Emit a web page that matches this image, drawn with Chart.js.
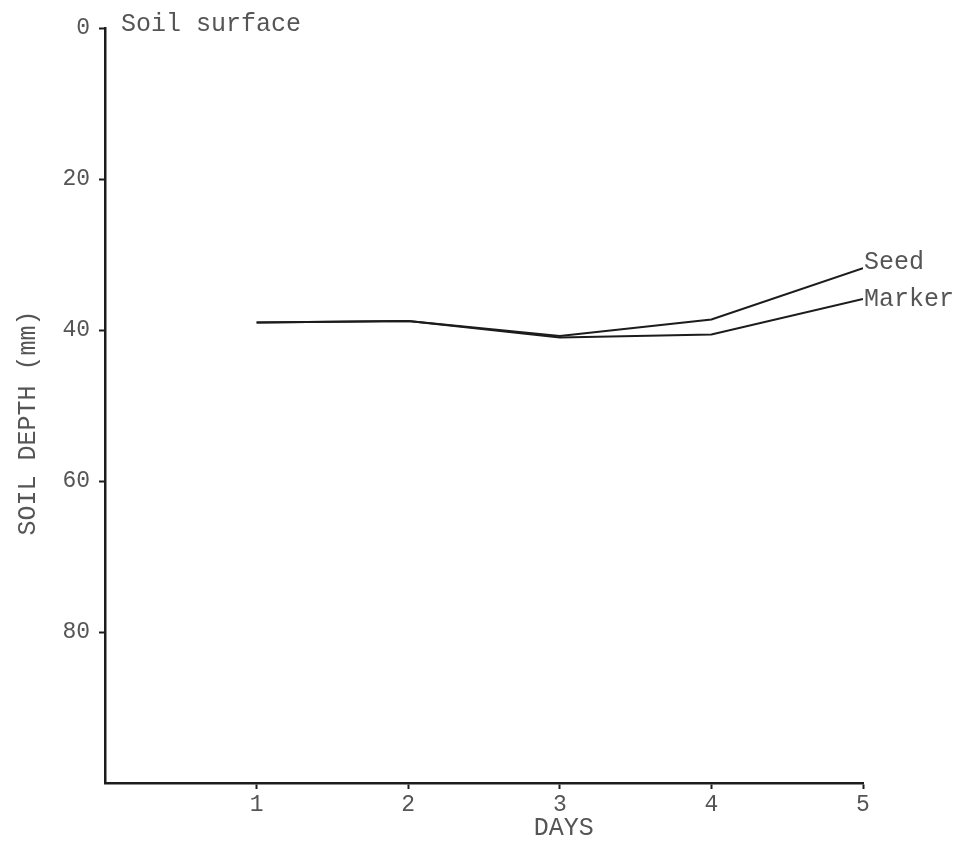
<!DOCTYPE html>
<html>
<head>
<meta charset="utf-8">
<script src="https://cdn.jsdelivr.net/npm/chart.js@4.4.1/dist/chart.umd.min.js"></script>
<style>
  html, body { margin: 0; padding: 0; background: #fff; }
  #wrap { width: 967px; height: 845px; }
</style>
</head>
<body>
<div id="wrap"><canvas id="chart"></canvas></div>
<script>
// values (soil depth in mm, day 1..5)
const days = [1, 2, 3, 4, 5];
const seedDepth = [39, 38.8, 40.8, 38.6, 31.8];
const markerDepth = [39, 38.8, 41, 40.6, 35.9];
const yTickValues = [0, 20, 40, 60, 80];
const xTickValues = [1, 2, 3, 4, 5];

const typeFont = "'Liberation Mono', 'DejaVu Sans Mono', monospace";
const inkText = '#555';
const inkLine = '#1c1c1c';

const ctx = document.getElementById('chart');

// draws the free text: soil surface note, series names, axis titles
const notes = {
  id: 'notes',
  afterDraw(chart) {
    const c = chart.ctx;
    const xs = chart.scales.x, ys = chart.scales.y;
    c.save();
    c.fillStyle = inkText;
    c.font = '25px ' + typeFont;
    c.textBaseline = 'middle';
    c.textAlign = 'left';
    c.fillText('Soil surface', xs.left + 16, ys.getPixelForValue(0) - 4);

    const last = days.length - 1;
    c.fillText('Seed', xs.getPixelForValue(days[last]) + 1, ys.getPixelForValue(seedDepth[last]) - 6);
    c.fillText('Marker', xs.getPixelForValue(days[last]) + 1, ys.getPixelForValue(markerDepth[last]));

    c.textAlign = 'center';
    c.fillText('DAYS', xs.getPixelForValue(3) + 4, 828);

    c.translate(28, 423);
    c.rotate(-Math.PI / 2);
    c.fillText('SOIL DEPTH (mm)', 0, 0);
    c.restore();
  }
};

const chart = new Chart(ctx, {
  type: 'line',
  data: {
    datasets: [{
      label: 'Seed',
      data: days.map((d, i) => ({x: d, y: seedDepth[i]})),
      borderColor: inkLine,
      borderWidth: 2,
      pointRadius: 0,
      tension: 0
    }, {
      label: 'Marker',
      data: days.map((d, i) => ({x: d, y: markerDepth[i]})),
      borderColor: inkLine,
      borderWidth: 2,
      pointRadius: 0,
      tension: 0
    }]
  },
  options: {
    responsive: true,
    maintainAspectRatio: false,
    animation: false,
    layout: { padding: { top: 28, right: 104, left: 0, bottom: 0 } },
    plugins: {
      legend: { display: false },
      tooltip: { enabled: false }
    },
    scales: {
      x: {
        type: 'linear',
        min: 0,
        max: 5,
        afterBuildTicks: s => { s.ticks = xTickValues.map(v => ({value: v})); },
        afterFit: s => { s.height = 62; },
        grid: { drawOnChartArea: false, tickLength: 6, tickColor: inkLine, tickWidth: 2 },
        border: { color: inkLine, width: 2.5 },
        ticks: { color: inkText, padding: 2, font: { family: typeFont, size: 23 } }
      },
      y: {
        type: 'linear',
        reverse: true,
        min: 0,
        max: 100,
        afterBuildTicks: s => { s.ticks = yTickValues.map(v => ({value: v})); },
        afterFit: s => { s.width = 105; },
        grid: { drawOnChartArea: false, tickLength: 6, tickColor: inkLine, tickWidth: 2 },
        border: { color: inkLine, width: 2.5 },
        ticks: { color: inkText, padding: 9, font: { family: typeFont, size: 23 } }
      }
    }
  },
  plugins: [notes]
});
</script>
</body>
</html>
